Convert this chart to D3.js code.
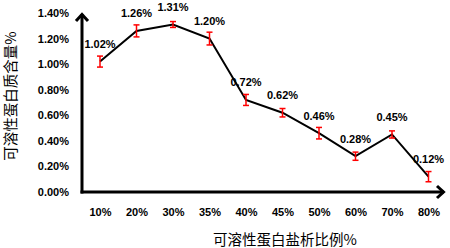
<!DOCTYPE html>
<html>
<head>
<meta charset="utf-8">
<script src="https://cdn.jsdelivr.net/npm/d3@7"></script>
<style>
  body { margin: 0; background: #fff; }
  svg { display: block; }
</style>
</head>
<body>
<div id="chart"></div>
<script>
// données
const categories = ['10%', '20%', '30%', '35%', '40%', '45%', '50%', '60%', '70%', '80%'];
const values = [1.02, 1.26, 1.31, 1.20, 0.72, 0.62, 0.46, 0.28, 0.45, 0.12];
const errors = [0.043, 0.047, 0.023, 0.05, 0.043, 0.033, 0.045, 0.032, 0.028, 0.04];
const yTicks = [0, 0.2, 0.4, 0.6, 0.8, 1.0, 1.2, 1.4];

const width = 450, height = 248;
const axisX = 82, axisY = 192;

const svg = d3.select('#chart').append('svg')
    .attr('width', width)
    .attr('height', height);

// échelles
const x = d3.scalePoint()
    .domain(categories)
    .range([100, 428.5]);

const y = d3.scaleLinear()
    .domain([0, 1.4])
    .range([axisY, 13]);

const tickFont = 'Liberation Sans, Arial, sans-serif';

// axe Y (étiquettes)
const yAxis = svg.append('g')
    .attr('transform', `translate(${axisX},0)`)
    .call(d3.axisLeft(y).tickValues(yTicks).tickSize(0).tickPadding(13)
        .tickFormat(d => d.toFixed(2) + '%'));
yAxis.select('.domain').remove();
yAxis.selectAll('text')
    .attr('font-family', tickFont)
    .attr('font-weight', 'bold')
    .attr('font-size', 11)
    .attr('fill', '#000');

// axe X (étiquettes)
const xAxis = svg.append('g')
    .attr('transform', `translate(0,${axisY})`)
    .call(d3.axisBottom(x).tickSize(0).tickPadding(16));
xAxis.select('.domain').remove();
xAxis.selectAll('text')
    .attr('font-family', tickFont)
    .attr('font-weight', 'bold')
    .attr('font-size', 11)
    .attr('fill', '#000');

// lignes des axes avec flèches
const axes = svg.append('g')
    .attr('stroke', '#000')
    .attr('stroke-width', 3)
    .attr('fill', 'none')
    .attr('stroke-linecap', 'butt');

axes.append('path').attr('d', `M${axisX},${axisY + 1.5}V14`);
axes.append('path').attr('d', `M${axisX - 6},21L${axisX},14.5L${axisX + 6},21`)
    .attr('stroke-linejoin', 'miter');
axes.append('path').attr('d', `M${axisX - 1.5},${axisY}H444`);
axes.append('path').attr('d', `M437,${axisY - 6}L443.5,${axisY}L437,${axisY + 6}`)
    .attr('stroke-linejoin', 'miter');

// courbe
const line = d3.line()
    .x((d, i) => x(categories[i]))
    .y(d => y(d));

svg.append('path')
    .datum(values)
    .attr('d', line)
    .attr('fill', 'none')
    .attr('stroke', '#000')
    .attr('stroke-width', 2);

// barres d'erreur
const eb = svg.append('g')
    .attr('stroke', '#ff0000')
    .attr('stroke-width', 1.5);

values.forEach((v, i) => {
    const cx = x(categories[i]);
    const y0 = y(v - errors[i]);
    const y1 = y(v + errors[i]);
    eb.append('line').attr('x1', cx).attr('x2', cx).attr('y1', y0).attr('y2', y1);
    eb.append('line').attr('x1', cx - 3).attr('x2', cx + 3).attr('y1', y0).attr('y2', y0);
    eb.append('line').attr('x1', cx - 3).attr('x2', cx + 3).attr('y1', y1).attr('y2', y1);
});

// étiquettes des valeurs
svg.append('g')
    .selectAll('text')
    .data(values)
    .enter()
    .append('text')
    .attr('x', (d, i) => x(categories[i]))
    .attr('y', d => y(d) - 17.5)
    .attr('dy', '0.35em')
    .attr('text-anchor', 'middle')
    .attr('font-family', tickFont)
    .attr('font-weight', 'bold')
    .attr('font-size', 11)
    .attr('fill', '#000')
    .text(d => d.toFixed(2) + '%');

// titres des axes
svg.append('text')
    .attr('x', 285)
    .attr('y', 240)
    .attr('dy', '0.35em')
    .attr('text-anchor', 'middle')
    .attr('font-family', 'Noto Sans CJK SC, sans-serif')
    .attr('font-size', 14.5)
    .attr('fill', '#000')
    .text('可溶性蛋白盐析比例%');

svg.append('text')
    .attr('transform', 'translate(11,96) rotate(-90)')
    .attr('dy', '0.35em')
    .attr('text-anchor', 'middle')
    .attr('font-family', 'Noto Sans CJK SC, sans-serif')
    .attr('font-size', 14.5)
    .attr('fill', '#000')
    .text('可溶性蛋白质含量%');
</script>
</body>
</html>
